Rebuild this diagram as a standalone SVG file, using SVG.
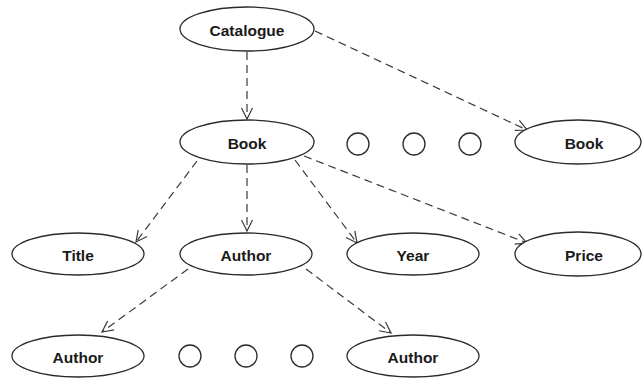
<svg xmlns="http://www.w3.org/2000/svg" width="642" height="379" viewBox="0 0 642 379">
  <style>
    .node ellipse { fill: #ffffff; stroke: #2a2a2a; stroke-width: 1.3; }
    .dot { fill: #ffffff; stroke: #2a2a2a; stroke-width: 1.3; }
    .label { font-family: "Liberation Sans", Arial, sans-serif; font-weight: bold; font-size: 15.5px; fill: #1a1a1a; text-anchor: middle; dominant-baseline: central; }
    .edge { fill: none; stroke: #3a3a3a; stroke-width: 1.2; stroke-dasharray: 8 5; marker-end: url(#open-arrow); }
  </style>
  <defs>
    <marker id="open-arrow" viewBox="0 0 13 13" refX="12" refY="6.5" markerWidth="13" markerHeight="13" markerUnits="userSpaceOnUse" orient="auto">
      <path d="M1,1 L12,6.5 L1,12" fill="none" stroke="#3a3a3a" stroke-width="1.2" stroke-dasharray="none"/>
    </marker>
  </defs>
  <rect width="642" height="379" fill="#ffffff"/>

  <g id="connectors">
    <line class="edge" x1="247" y1="52" x2="247" y2="119"/>
    <line class="edge" x1="315" y1="31" x2="527" y2="130"/>
    <line class="edge" x1="197" y1="161" x2="136" y2="242"/>
    <line class="edge" x1="247" y1="165" x2="247" y2="231"/>
    <line class="edge" x1="295" y1="160" x2="357" y2="243"/>
    <line class="edge" x1="304" y1="156" x2="527" y2="243"/>
    <line class="edge" x1="188" y1="269" x2="102" y2="332"/>
    <line class="edge" x1="306" y1="269" x2="391" y2="333"/>
  </g>

  <g id="catalogue" class="node">
    <ellipse cx="247" cy="29" rx="67" ry="22"/>
    <text class="label" x="247" y="30">Catalogue</text>
  </g>
  <g id="book" class="node">
    <ellipse cx="247" cy="142" rx="67" ry="22"/>
    <text class="label" x="247" y="143">Book</text>
  </g>
  <g id="book-ellipsis">
    <circle class="dot" cx="358" cy="144" r="11"/>
    <circle class="dot" cx="414" cy="144" r="11"/>
    <circle class="dot" cx="470" cy="144" r="11"/>
  </g>
  <g id="book-last" class="node">
    <ellipse cx="578" cy="142" rx="63" ry="22"/>
    <text class="label" x="584" y="143">Book</text>
  </g>
  <g id="title" class="node">
    <ellipse cx="78" cy="254" rx="66" ry="21"/>
    <text class="label" x="78" y="255">Title</text>
  </g>
  <g id="author" class="node">
    <ellipse cx="246" cy="254" rx="66" ry="21"/>
    <text class="label" x="246" y="255">Author</text>
  </g>
  <g id="year" class="node">
    <ellipse cx="413" cy="254" rx="66" ry="21"/>
    <text class="label" x="413" y="255">Year</text>
  </g>
  <g id="price" class="node">
    <ellipse cx="578" cy="254" rx="63" ry="22"/>
    <text class="label" x="584" y="255">Price</text>
  </g>
  <g id="author-first" class="node">
    <ellipse cx="78" cy="356" rx="66" ry="21"/>
    <text class="label" x="78" y="357">Author</text>
  </g>
  <g id="author-ellipsis">
    <circle class="dot" cx="190" cy="356" r="11"/>
    <circle class="dot" cx="246" cy="356" r="11"/>
    <circle class="dot" cx="302" cy="356" r="11"/>
  </g>
  <g id="author-last" class="node">
    <ellipse cx="413" cy="356" rx="66" ry="21"/>
    <text class="label" x="413" y="357">Author</text>
  </g>
</svg>
